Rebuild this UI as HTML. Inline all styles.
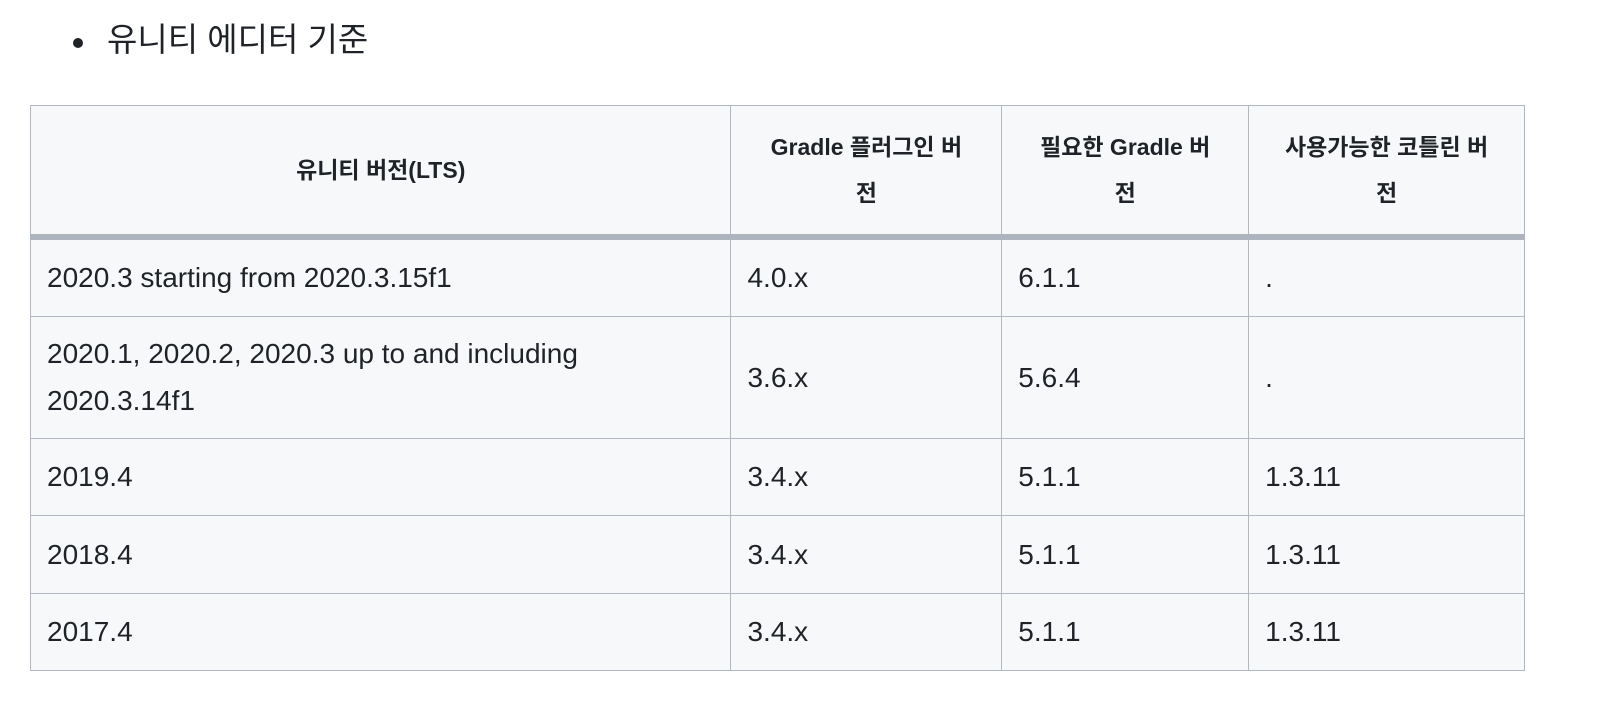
<!DOCTYPE html>
<html><head><meta charset="utf-8"><style>
body{margin:0;width:1610px;height:720px;background:#fff;font-family:"Liberation Sans","Noto Sans CJK KR",sans-serif;color:#1f2328;position:relative;overflow:hidden}
.bullet{position:absolute;left:73px;top:38px;width:10px;height:10px;border-radius:50%;background:#1f2328}
.title{position:absolute;left:107px;top:19px;font-size:33px;line-height:42px}
table{position:absolute;left:30px;top:105px;border-collapse:collapse;background:#f7f8fa;width:1495px}
td,th{border:1.5px solid #b2b8c2;padding:0 16px;font-size:28px;line-height:47px;text-align:left;vertical-align:middle}
th{font-weight:bold;text-align:center;font-size:23px;line-height:46px;height:128px;border-bottom:6px solid #adb4be}
</style></head><body>
<div class="bullet"></div>
<div class="title">유니티 에디터 기준</div>
<table>
<colgroup><col style="width:701px"><col style="width:271px"><col style="width:247px"><col style="width:276px"></colgroup>
<tr>
<th>유니티 버전(LTS)</th>
<th>Gradle 플러그인 버<br>전</th>
<th>필요한 Gradle 버<br>전</th>
<th>사용가능한 코틀린 버<br>전</th></tr>
<tr style="height:79px"><td>2020.3 starting from 2020.3.15f1</td><td>4.0.x</td><td>6.1.1</td><td>.</td></tr>
<tr style="height:122px"><td>2020.1, 2020.2, 2020.3 up to and including<br>2020.3.14f1</td><td>3.6.x</td><td>5.6.4</td><td>.</td></tr>
<tr style="height:77px"><td>2019.4</td><td>3.4.x</td><td>5.1.1</td><td>1.3.11</td></tr>
<tr style="height:78px"><td>2018.4</td><td>3.4.x</td><td>5.1.1</td><td>1.3.11</td></tr>
<tr style="height:77px"><td>2017.4</td><td>3.4.x</td><td>5.1.1</td><td>1.3.11</td></tr>
</table>
</body></html>
